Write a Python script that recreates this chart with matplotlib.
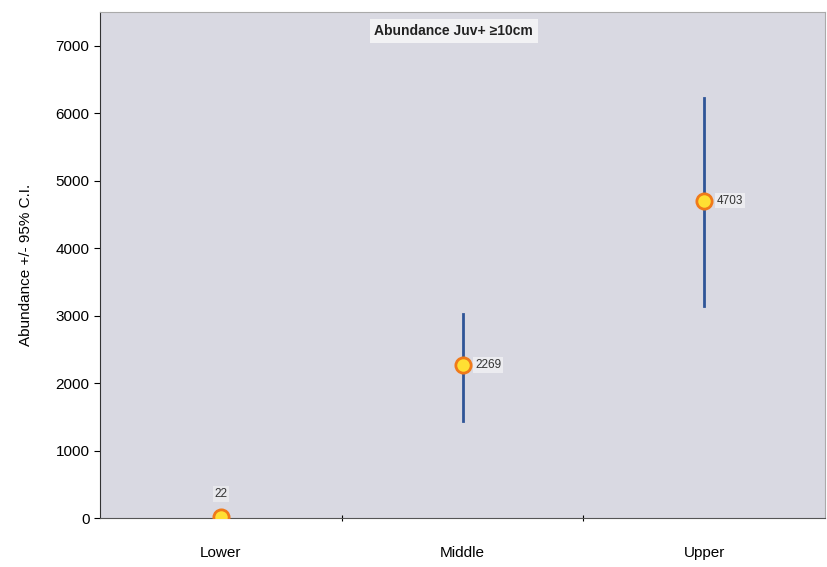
import matplotlib.pyplot as plt
import numpy as np

# data
sites = ['Lower', 'Middle', 'Upper']
abundance = [22, 2269, 4703]
ci_low = [0, 1440, 3140]
ci_high = [45, 3030, 6230]
y_ticks = [0, 1000, 2000, 3000, 4000, 5000, 6000, 7000]

plt.rcParams['font.family'] = ['Liberation Sans', 'DejaVu Sans']

fig = plt.figure(figsize=(8.27, 5.67), dpi=100)
ax = fig.add_axes([100 / 827, 49 / 567, 725 / 827, 506 / 567])
ax.set_facecolor('#d9d9e2')

x = np.arange(len(sites))
for xi, lo, hi in zip(x, ci_low, ci_high):
    ax.plot([xi, xi], [lo, hi], color='#2f5597', lw=2, zorder=2)
ax.plot(x, abundance, 'o', ms=11, mfc='#ffe033', mec='#f07a1a', mew=2, zorder=3)

# value labels
for xi, val in zip(x, abundance):
    if val < 100:
        ax.annotate(str(val), (xi, val), xytext=(0, 12), textcoords='offset points',
                    ha='center', va='bottom', fontsize=8.5, color='#333333',
                    bbox=dict(boxstyle='square,pad=0.15', fc='#e8e8ec', ec='none'))
    else:
        ax.annotate(str(val), (xi, val), xytext=(9, 0), textcoords='offset points',
                    ha='left', va='center', fontsize=8.5, color='#333333',
                    bbox=dict(boxstyle='square,pad=0.15', fc='#ececf0', ec='none'))

ax.text(0.488, 0.963, 'Abundance Juv+ \u226510cm', transform=ax.transAxes,
        ha='center', va='center', fontsize=10, fontweight='bold', color='#222222',
        bbox=dict(boxstyle='square,pad=0.35', fc='#f2f2f4', ec='none'))

ax.set_xlim(-0.5, 2.5)
ax.set_ylim(0, 7500)
ax.set_yticks(y_ticks)
ax.set_xticks([0.5, 1.5])
ax.set_xticklabels([])
ax.set_xticks(x, minor=True)
ax.set_xticklabels(sites, minor=True, fontsize=11)
ax.tick_params(axis='x', which='minor', length=0, pad=20)
ax.tick_params(axis='x', which='major', length=5, direction='inout')
ax.tick_params(axis='y', labelsize=11, length=4)
ax.set_ylabel('Abundance +/- 95% C.I.', fontsize=11, labelpad=16)

for side in ['top', 'right']:
    ax.spines[side].set_color('#aaaaaa')
ax.spines['left'].set_color('#333333')
ax.spines['bottom'].set_color('#555555')

fig.savefig('out.png', dpi=100)
